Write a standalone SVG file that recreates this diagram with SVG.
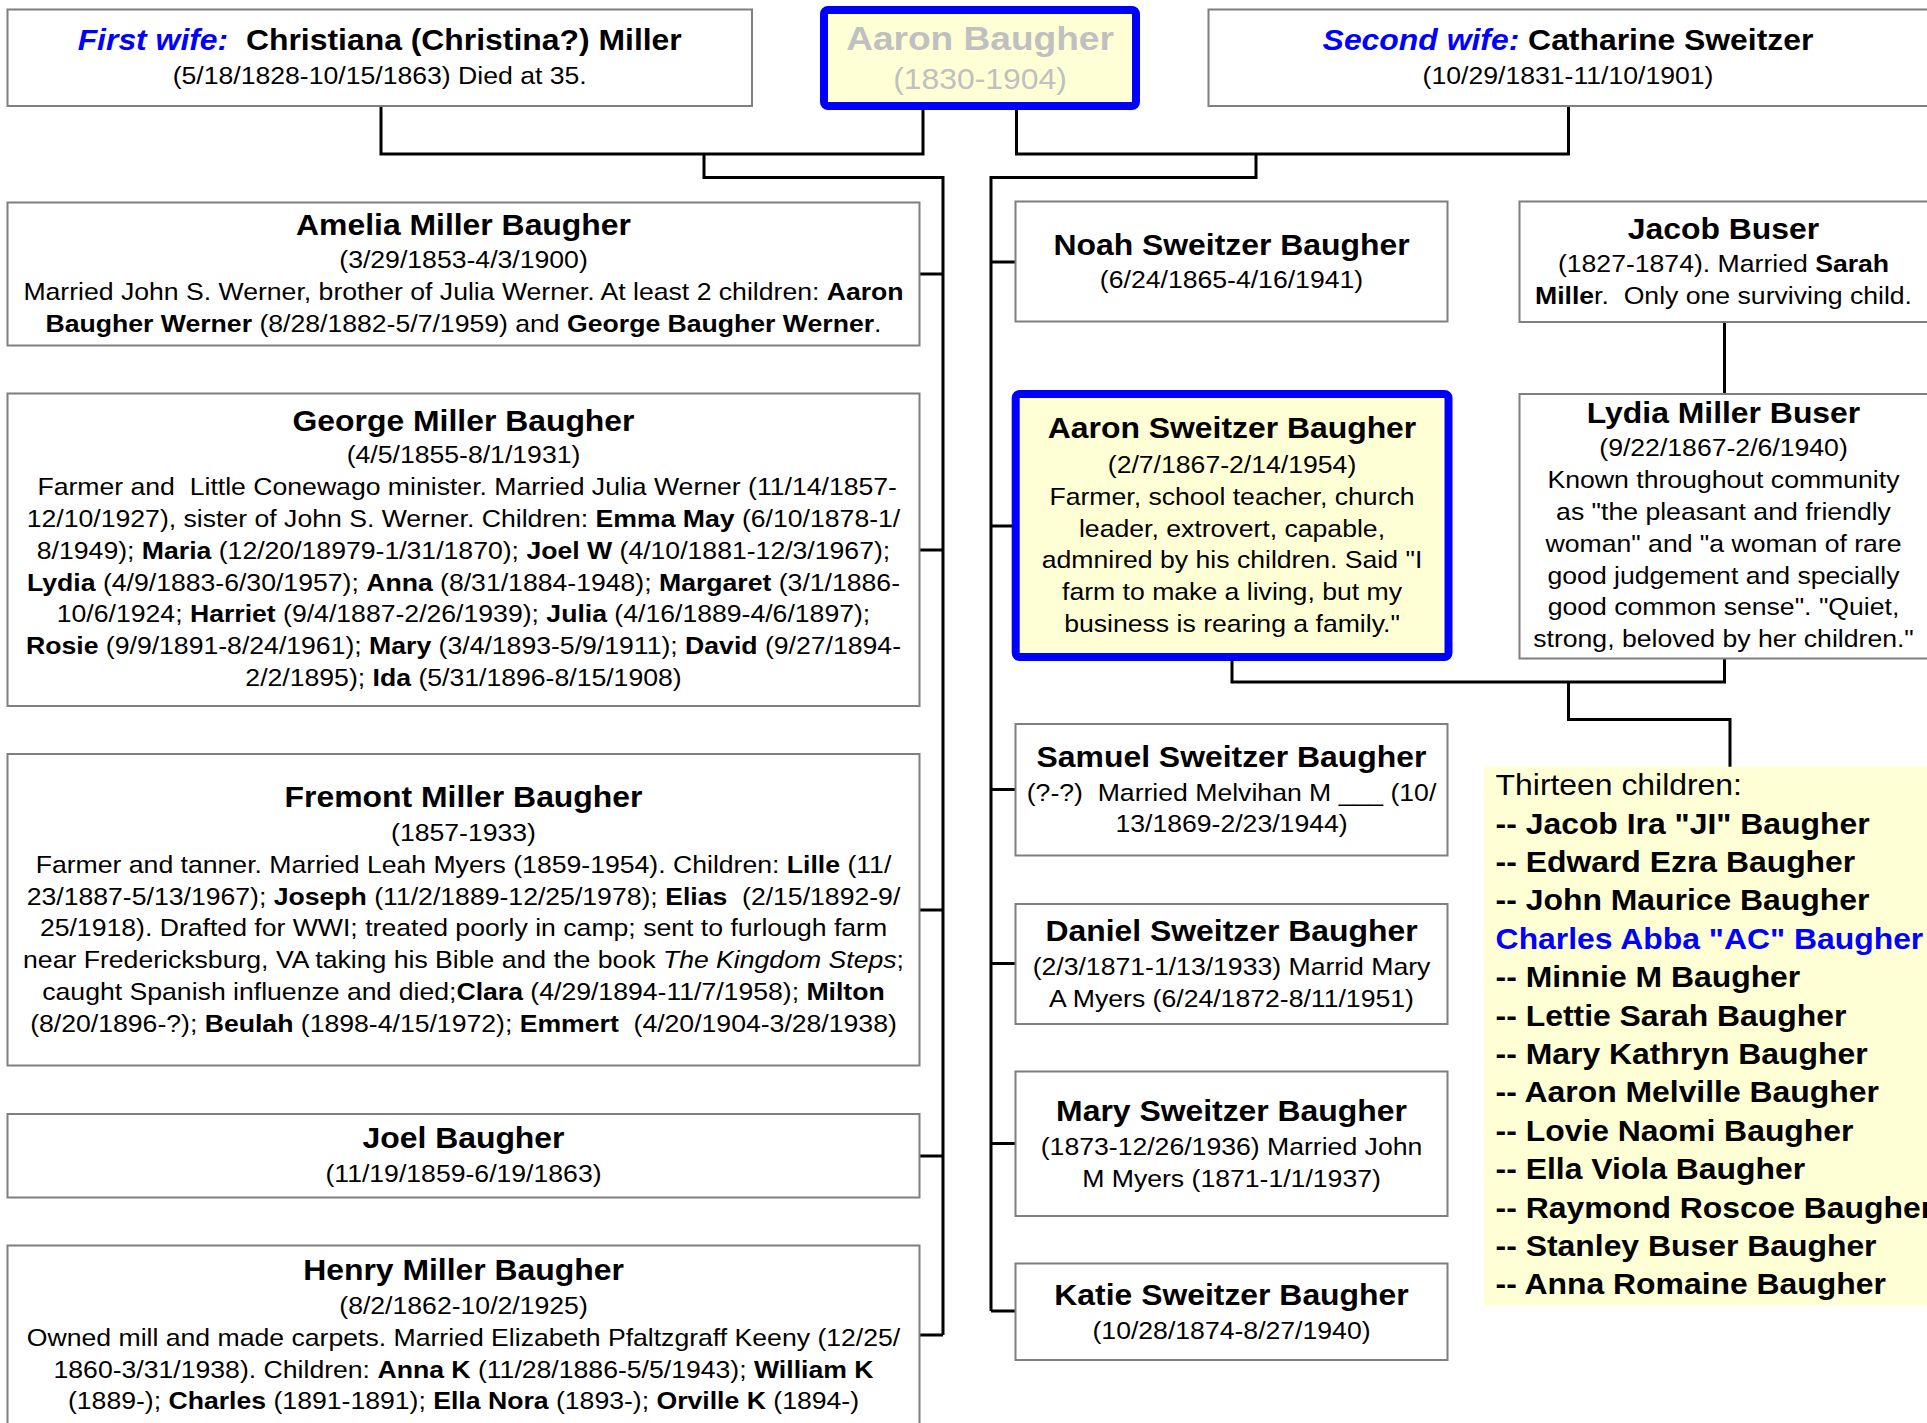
<svg xmlns="http://www.w3.org/2000/svg" width="1927" height="1423" viewBox="0 0 1927 1423">
<style>
.box{fill:#fff;stroke:#7f7f7f;stroke-width:2}
.hl{fill:#FFFFD5;stroke:#0000FF;stroke-width:8}
.conn path{fill:none;stroke:#000;stroke-width:3}
text{font-family:"Liberation Sans",Arial,sans-serif;fill:#000}
.t{font-size:29px;font-weight:bold;text-anchor:middle}
.b{font-size:24.2px;text-anchor:middle}
.bd{font-weight:bold}
.it{font-style:italic}
.bl{fill:#0000FF;font-style:italic;font-weight:bold}
.li{font-size:29px;font-weight:bold}
.gr{fill:#C0C0C0}
</style>
<rect x="0" y="0" width="1927" height="1423" fill="#fff"/>
<g id="connectors" class="conn">
<path d="M381,106 V154 H923 V110"/>
<path d="M704,154 V177.5 H943 V1335"/>
<path d="M943,274 H919.5 M943,550 H919.5 M943,910 H919.5 M943,1156 H919.5 M943,1335 H919.5"/>
<path d="M1016.5,110 V154 H1568.5 V106"/>
<path d="M1256,154 V177.5 H991 V1311"/>
<path d="M991,262 H1015.5 M991,526 H1012 M991,789.5 H1015.5 M991,963.5 H1015.5 M991,1143.5 H1015.5 M991,1311 H1015.5"/>
<path d="M1724.5,322 V394"/>
<path d="M1232,661 V682 H1724.5 V658"/>
<path d="M1568.5,682 V719.5 H1730 V767"/>
</g>
<g id="first-wife">
<rect class="box" x="7.5" y="9.5" width="744.5" height="96.5"/>
<g transform="translate(379.7 0) scale(1.1 1)">
<text class="t" x="0" y="50" xml:space="preserve"><tspan class="bl">First wife:</tspan>  Christiana (Christina?) Miller</text>
<text class="b" x="0" y="84.5">(5/18/1828-10/15/1863) Died at 35.</text>
</g>
</g>
<g id="aaron-baugher">
<rect class="hl" x="824" y="10" width="312" height="96" rx="4"/>
<g transform="translate(980 0) scale(1.1 1)">
<text class="t gr" x="0" y="50" style="font-size:33.7px">Aaron Baugher</text>
<text class="b gr" x="0" y="89.3" style="font-size:29px">(1830-1904)</text>
</g>
</g>
<g id="second-wife">
<rect class="box" x="1208.5" y="9.5" width="740" height="96.5"/>
<g transform="translate(1568 0) scale(1.1 1)">
<text class="t" x="0" y="50"><tspan class="bl">Second wife:</tspan> Catharine Sweitzer</text>
<text class="b" x="0" y="84.5">(10/29/1831-11/10/1901)</text>
</g>
</g>
<g id="amelia">
<rect class="box" x="7.5" y="202.5" width="912" height="143"/>
<g transform="translate(463.5 0) scale(1.1 1)">
<text class="t" x="0" y="235.5">Amelia Miller Baugher</text>
<text class="b" x="0" y="268.5">(3/29/1853-4/3/1900)</text>
<text class="b" x="0" y="300.5">Married John S. Werner, brother of Julia Werner. At least 2 children: <tspan class="bd">Aaron</tspan></text>
<text class="b" x="0" y="332.5"><tspan class="bd">Baugher Werner</tspan> (8/28/1882-5/7/1959) and <tspan class="bd">George Baugher Werner</tspan>.</text>
</g>
</g>
<g id="george">
<rect class="box" x="7.5" y="393.5" width="912" height="312.5"/>
<g transform="translate(463.5 0) scale(1.1 1)">
<text class="t" x="0" y="431">George Miller Baugher</text>
<text class="b" x="0" y="463.5">(4/5/1855-8/1/1931)</text>
<text class="b" x="0" y="495.3" xml:space="preserve"> Farmer and  Little Conewago minister. Married Julia Werner (11/14/1857-</text>
<text class="b" x="0" y="527.1">12/10/1927), sister of John S. Werner. Children: <tspan class="bd">Emma May</tspan> (6/10/1878-1/</text>
<text class="b" x="0" y="558.9">8/1949); <tspan class="bd">Maria</tspan> (12/20/18979-1/31/1870); <tspan class="bd">Joel W</tspan> (4/10/1881-12/3/1967);</text>
<text class="b" x="0" y="590.7"><tspan class="bd">Lydia</tspan> (4/9/1883-6/30/1957); <tspan class="bd">Anna</tspan> (8/31/1884-1948); <tspan class="bd">Margaret</tspan> (3/1/1886-</text>
<text class="b" x="0" y="622.5">10/6/1924; <tspan class="bd">Harriet</tspan> (9/4/1887-2/26/1939); <tspan class="bd">Julia</tspan> (4/16/1889-4/6/1897);</text>
<text class="b" x="0" y="654.3"><tspan class="bd">Rosie</tspan> (9/9/1891-8/24/1961); <tspan class="bd">Mary</tspan> (3/4/1893-5/9/1911); <tspan class="bd">David</tspan> (9/27/1894-</text>
<text class="b" x="0" y="686.1">2/2/1895); <tspan class="bd">Ida</tspan> (5/31/1896-8/15/1908)</text>
</g>
</g>
<g id="fremont">
<rect class="box" x="7.5" y="754" width="912" height="311.5"/>
<g transform="translate(463.5 0) scale(1.1 1)">
<text class="t" x="0" y="807">Fremont Miller Baugher</text>
<text class="b" x="0" y="841">(1857-1933)</text>
<text class="b" x="0" y="872.8">Farmer and tanner. Married Leah Myers (1859-1954). Children: <tspan class="bd">Lille</tspan> (11/</text>
<text class="b" x="0" y="904.6" xml:space="preserve">23/1887-5/13/1967); <tspan class="bd">Joseph</tspan> (11/2/1889-12/25/1978); <tspan class="bd">Elias</tspan>  (2/15/1892-9/</text>
<text class="b" x="0" y="936.4">25/1918). Drafted for WWI; treated poorly in camp; sent to furlough farm</text>
<text class="b" x="0" y="968.2">near Fredericksburg, VA taking his Bible and the book <tspan class="it">The Kingdom Steps</tspan>;</text>
<text class="b" x="0" y="1000">caught Spanish influenze and died;<tspan class="bd">Clara</tspan> (4/29/1894-11/7/1958); <tspan class="bd">Milton</tspan></text>
<text class="b" x="0" y="1031.8" xml:space="preserve">(8/20/1896-?); <tspan class="bd">Beulah</tspan> (1898-4/15/1972); <tspan class="bd">Emmert</tspan>  (4/20/1904-3/28/1938)</text>
</g>
</g>
<g id="joel">
<rect class="box" x="7.5" y="1114" width="912" height="83.5"/>
<g transform="translate(463.5 0) scale(1.1 1)">
<text class="t" x="0" y="1148.5">Joel Baugher</text>
<text class="b" x="0" y="1182.5">(11/19/1859-6/19/1863)</text>
</g>
</g>
<g id="henry">
<rect class="box" x="7.5" y="1245.5" width="912" height="200"/>
<g transform="translate(463.5 0) scale(1.1 1)">
<text class="t" x="0" y="1280.5">Henry Miller Baugher</text>
<text class="b" x="0" y="1314">(8/2/1862-10/2/1925)</text>
<text class="b" x="0" y="1345.8">Owned mill and made carpets. Married Elizabeth Pfaltzgraff Keeny (12/25/</text>
<text class="b" x="0" y="1377.6">1860-3/31/1938). Children: <tspan class="bd">Anna K</tspan> (11/28/1886-5/5/1943); <tspan class="bd">William K</tspan></text>
<text class="b" x="0" y="1409.4">(1889-); <tspan class="bd">Charles</tspan> (1891-1891); <tspan class="bd">Ella Nora</tspan> (1893-); <tspan class="bd">Orville K</tspan> (1894-)</text>
</g>
</g>
<g id="noah">
<rect class="box" x="1015.5" y="201.5" width="432" height="120"/>
<g transform="translate(1231.5 0) scale(1.1 1)">
<text class="t" x="0" y="255.5">Noah Sweitzer Baugher</text>
<text class="b" x="0" y="288.5">(6/24/1865-4/16/1941)</text>
</g>
</g>
<g id="aaron-sweitzer">
<rect class="hl" x="1015.7" y="394" width="432.8" height="263" rx="4"/>
<g transform="translate(1232 0) scale(1.1 1)">
<text class="t" x="0" y="438.5">Aaron Sweitzer Baugher</text>
<text class="b" x="0" y="473">(2/7/1867-2/14/1954)</text>
<text class="b" x="0" y="504.8">Farmer, school teacher, church</text>
<text class="b" x="0" y="536.6">leader, extrovert, capable,</text>
<text class="b" x="0" y="568.4">admnired by his children. Said "I</text>
<text class="b" x="0" y="600.2">farm to make a living, but my</text>
<text class="b" x="0" y="632">business is rearing a family."</text>
</g>
</g>
<g id="samuel">
<rect class="box" x="1015.5" y="724" width="432" height="131.5"/>
<g transform="translate(1231.5 0) scale(1.1 1)">
<text class="t" x="0" y="767">Samuel Sweitzer Baugher</text>
<text class="b" x="0" y="800.8" xml:space="preserve">(?-?)  Married Melvihan M ___ (10/</text>
<text class="b" x="0" y="832.5">13/1869-2/23/1944)</text>
</g>
</g>
<g id="daniel">
<rect class="box" x="1015.5" y="904" width="432" height="120"/>
<g transform="translate(1231.5 0) scale(1.1 1)">
<text class="t" x="0" y="941">Daniel Sweitzer Baugher</text>
<text class="b" x="0" y="975.3">(2/3/1871-1/13/1933) Marrid Mary</text>
<text class="b" x="0" y="1007.1">A Myers (6/24/1872-8/11/1951)</text>
</g>
</g>
<g id="mary">
<rect class="box" x="1015.5" y="1071.5" width="432" height="144.5"/>
<g transform="translate(1231.5 0) scale(1.1 1)">
<text class="t" x="0" y="1121.5">Mary Sweitzer Baugher</text>
<text class="b" x="0" y="1155.3">(1873-12/26/1936) Married John</text>
<text class="b" x="0" y="1187.1">M Myers (1871-1/1/1937)</text>
</g>
</g>
<g id="katie">
<rect class="box" x="1015.5" y="1263.5" width="432" height="96.5"/>
<g transform="translate(1231.5 0) scale(1.1 1)">
<text class="t" x="0" y="1305">Katie Sweitzer Baugher</text>
<text class="b" x="0" y="1339">(10/28/1874-8/27/1940)</text>
</g>
</g>
<g id="jacob-buser">
<rect class="box" x="1519.5" y="201.5" width="440" height="120.5"/>
<g transform="translate(1723.5 0) scale(1.1 1)">
<text class="t" x="0" y="239.3">Jacob Buser</text>
<text class="b" x="0" y="272.5">(1827-1874). Married <tspan class="bd">Sarah</tspan></text>
<text class="b" x="0" y="304.3" xml:space="preserve"><tspan class="bd">Mille</tspan>r.  Only one surviving child.</text>
</g>
</g>
<g id="lydia-buser">
<rect class="box" x="1519.5" y="394" width="440" height="264.5"/>
<g transform="translate(1723.5 0) scale(1.1 1)">
<text class="t" x="0" y="422.8">Lydia Miller Buser</text>
<text class="b" x="0" y="456.5">(9/22/1867-2/6/1940)</text>
<text class="b" x="0" y="488.3">Known throughout community</text>
<text class="b" x="0" y="520.1">as "the pleasant and friendly</text>
<text class="b" x="0" y="551.9">woman" and "a woman of rare</text>
<text class="b" x="0" y="583.7">good judgement and specially</text>
<text class="b" x="0" y="615.5">good common sense". "Quiet,</text>
<text class="b" x="0" y="647.3">strong, beloved by her children."</text>
</g>
</g>
<g id="thirteen-children">
<rect x="1484" y="766.7" width="450" height="539" fill="#FFFFD5"/>
<g transform="translate(1495.6 0) scale(1.1 1)">
<text x="0" y="795.3" style="font-size:29px">Thirteen children:</text>
<text class="li" x="0" y="833.7">-- Jacob Ira "JI" Baugher</text>
<text class="li" x="0" y="872.1">-- Edward Ezra Baugher</text>
<text class="li" x="0" y="910.5">-- John Maurice Baugher</text>
<text class="li" x="0" y="948.9" style="fill:#0000FF">Charles Abba "AC" Baugher</text>
<text class="li" x="0" y="987.3">-- Minnie M Baugher</text>
<text class="li" x="0" y="1025.7">-- Lettie Sarah Baugher</text>
<text class="li" x="0" y="1064.1">-- Mary Kathryn Baugher</text>
<text class="li" x="0" y="1102.5">-- Aaron Melville Baugher</text>
<text class="li" x="0" y="1140.9">-- Lovie Naomi Baugher</text>
<text class="li" x="0" y="1179.3">-- Ella Viola Baugher</text>
<text class="li" x="0" y="1217.7">-- Raymond Roscoe Baugher</text>
<text class="li" x="0" y="1256.1">-- Stanley Buser Baugher</text>
<text class="li" x="0" y="1294.5">-- Anna Romaine Baugher</text>
</g>
</g>
</svg>
